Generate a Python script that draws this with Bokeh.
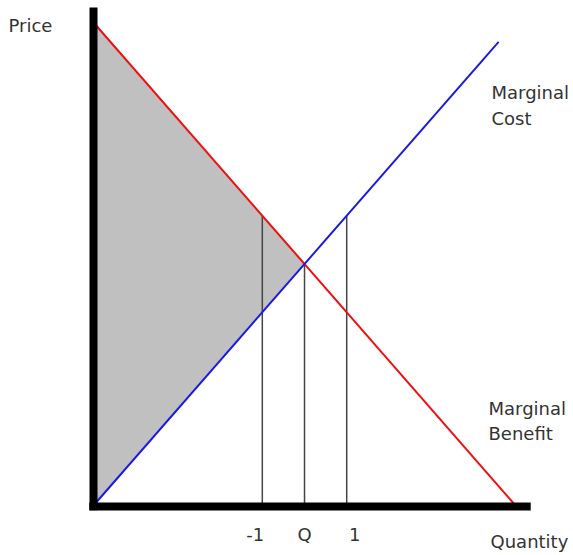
import numpy as np
from bokeh.plotting import figure
from bokeh.models import Label
from bokeh.core.properties import value
from bokeh.embed import file_html
from bokeh.resources import INLINE

# ---- data ----
mb_q = [0, 10]        # marginal benefit (demand) line
mb_p = [10, 0]
mc_q = [0, 9.6]       # marginal cost line
mc_p = [0, 9.6]
tick_values = [4, 5, 6]
tick_labels = ["-1", "Q", "1"]

def mb(q):
    return np.interp(q, mb_q, mb_p)

def mc(q):
    return np.interp(q, mc_q, mc_p)

# equilibrium (intersection) of the two straight lines
slope_b = (mb_p[1] - mb_p[0]) / (mb_q[1] - mb_q[0])
slope_c = (mc_p[1] - mc_p[0]) / (mc_q[1] - mc_q[0])
q_star = (mb_p[0] - mc_p[0]) / (slope_c - slope_b)
p_star = mc_p[0] + slope_c * q_star

FONT = "DejaVu Sans"
TXT = "#333333"
FS = "18px"

# axis extents (data units)
X_AX_END = 10.36
Y_AX_END = 10.31

p = figure(width=573, height=555, x_range=(-2.204, 11.374),
           y_range=(-1.035, 10.455),
           output_backend="svg", toolbar_location=None,
           min_border=0)
p.axis.visible = False
p.outline_line_color = None
p.grid.visible = False
p.background_fill_color = "white"
p.border_fill_color = "white"

# shaded area between the curves, from the price axis to equilibrium
p.patch([0, q_star, 0], [mb(0), p_star, mc(0)], fill_color="#c0c0c0",
        line_color=None)

# vertical guide lines
tops = [max(mb(t), mc(t)) for t in tick_values]
p.segment(x0=tick_values, y0=[0] * len(tick_values), x1=tick_values, y1=tops,
          line_color="#454545", line_width=1.5)

p.line(mb_q, mb_p, line_color="#ee1111", line_width=2)
p.line(mc_q, mc_p, line_color="#1a1ae0", line_width=2)

# axis lines
p.segment(x0=[0, -0.1], y0=[-0.1, -0.02], x1=[0, X_AX_END], y1=[Y_AX_END, -0.02],
          line_color="black", line_width=8)

# tick labels (small hand-drawn nudges in screen px)
p.text(x=tick_values, y=[-0.60] * len(tick_values), text=tick_labels,
       x_offset=[-7, 0, 8],
       text_font=value(FONT), text_font_size=FS, text_color=TXT,
       text_align="center", text_baseline="middle")

def lab(x, y, t):
    p.add_layout(Label(x=x, y=y, text=t, text_font=FONT, text_font_size=FS,
                       text_color=TXT, text_baseline="middle",
                       text_align="left"))

lab(-2.014, 9.938, "Price")
lab(9.408, -0.745, "Quantity")
lab(9.431, 8.551, "Marginal")
lab(9.431, 8.012, "Cost")
lab(9.36, 2.008, "Marginal")
lab(9.36, 1.491, "Benefit")

open("out.html", "w").write(file_html(p, INLINE))
